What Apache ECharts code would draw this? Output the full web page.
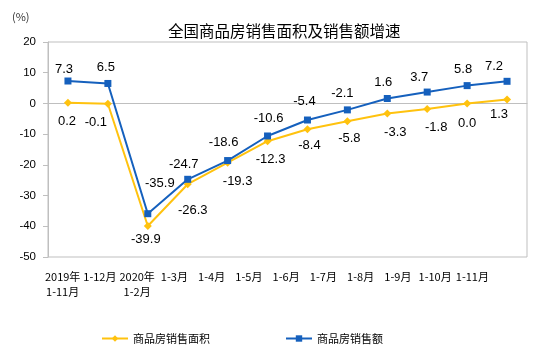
<!DOCTYPE html>
<html>
<head>
<meta charset="utf-8">
<script src="https://cdn.jsdelivr.net/npm/echarts@6/dist/echarts.min.js"></script>
<style>html,body{margin:0;padding:0;background:#fff}#c{width:559px;height:363px}</style>
</head>
<body>
<div id="c"></div>
<script>
var categories = ['2019年\n1-11月','1-12月','2020年\n1-2月','1-3月','1-4月','1-5月','1-6月','1-7月','1-8月','1-9月','1-10月','1-11月'];
var areaGrowth = [0.2, -0.1, -39.9, -26.3, -19.3, -12.3, -8.4, -5.8, -3.3, -1.8, 0.0, 1.3];
var salesGrowth = [7.3, 6.5, -35.9, -24.7, -18.6, -10.6, -5.4, -2.1, 1.6, 3.7, 5.8, 7.2];
var seriesNames = ['商品房销售面积', '商品房销售额'];
var yMin = -50, yMax = 20, yStep = 10;

// label nudges (style only)
var areaLabelShift = [[-1,1],[-12,1],[-2,-4],[5,9],[10,1],[3,1],[2,-1],[2,0],[8,1],[9,1],[0,2],[-8,-3]];
var salesLabelShift = [[-4,4],[-2,0],[12,-14],[-4,1],[-4,-2],[1,-2],[-3,-3],[-5,0],[-4,0],[-8,1],[-4,0],[-13,1]];

var cjk = '"Noto Sans CJK SC", "Liberation Sans", sans-serif';
var num = '"Liberation Sans", Arial, sans-serif';

function mkData(vals, shifts) {
  return vals.map(function (v, i) {
    return { value: v, label: { offset: shifts[i] } };
  });
}

var chart = echarts.init(document.getElementById('c'), null, {renderer: 'canvas'});
chart.setOption({
  animation: false,
  backgroundColor: '#fff',
  title: {
    text: '全国商品房销售面积及销售额增速',
    left: 163, top: 18,
    textStyle: { fontFamily: cjk, fontSize: 15.5, fontWeight: 'normal', color: '#000' }
  },
  graphic: [{
    type: 'text', left: 12, top: 11,
    style: { text: '(%)', font: '11px ' + cjk, fill: '#333' }
  }],
  legend: {
    left: 96, top: 328,
    itemWidth: 26, itemHeight: 8, itemGap: 75, itemTextGap: 5,
    textStyle: { fontFamily: cjk, fontSize: 11, color: '#000' },
    data: seriesNames
  },
  grid: [
    { left: 48, right: 32, top: 42, bottom: 106, show: true, borderColor: '#BFBFBF', borderWidth: 1 },
    { left: 44, right: 68, top: 42, bottom: 106, show: false }
  ],
  xAxis: [{
    type: 'category', gridIndex: 0, data: categories, boundaryGap: true,
    axisLine: { lineStyle: { color: '#BFBFBF' } },
    axisTick: { inside: true, length: 4, lineStyle: { color: '#BFBFBF' } },
    axisLabel: { show: false }
  }, {
    type: 'category', gridIndex: 1, data: categories, boundaryGap: true,
    axisLine: { show: false }, axisTick: { show: false },
    axisLabel: { interval: 0, margin: 12, fontFamily: cjk, fontSize: 11, color: '#000', lineHeight: 15 }
  }],
  yAxis: [{
    type: 'value', gridIndex: 0, min: yMin, max: yMax, interval: yStep,
    splitLine: { show: false },
    axisLine: { show: true, lineStyle: { color: '#BFBFBF' } },
    axisTick: { show: true, length: 5, lineStyle: { color: '#BFBFBF' } },
    axisLabel: { margin: 12, fontFamily: num, fontSize: 11.5, color: '#000' }
  }, {
    type: 'value', gridIndex: 1, min: yMin, max: yMax, show: false
  }],
  series: [{
    name: seriesNames[0], type: 'line', xAxisIndex: 0, yAxisIndex: 0,
    data: mkData(areaGrowth, areaLabelShift),
    color: '#FFC20E',
    lineStyle: { width: 2, color: '#FFC20E' },
    symbol: 'diamond', symbolSize: 8,
    itemStyle: { color: '#FFC20E' },
    label: { show: true, position: 'bottom', distance: 7, fontFamily: num, fontSize: 13, color: '#000',
             formatter: function (p) { return p.value.toFixed(1); } },
    z: 2
  }, {
    name: seriesNames[1], type: 'line', xAxisIndex: 0, yAxisIndex: 0,
    data: mkData(salesGrowth, salesLabelShift),
    color: '#1560BD',
    lineStyle: { width: 2, color: '#1560BD' },
    symbol: 'rect', symbolSize: 7,
    itemStyle: { color: '#1560BD' },
    label: { show: true, position: 'top', distance: 6, fontFamily: num, fontSize: 13, color: '#000',
             formatter: function (p) { return p.value.toFixed(1); } },
    z: 3
  }]
});
</script>
</body>
</html>
